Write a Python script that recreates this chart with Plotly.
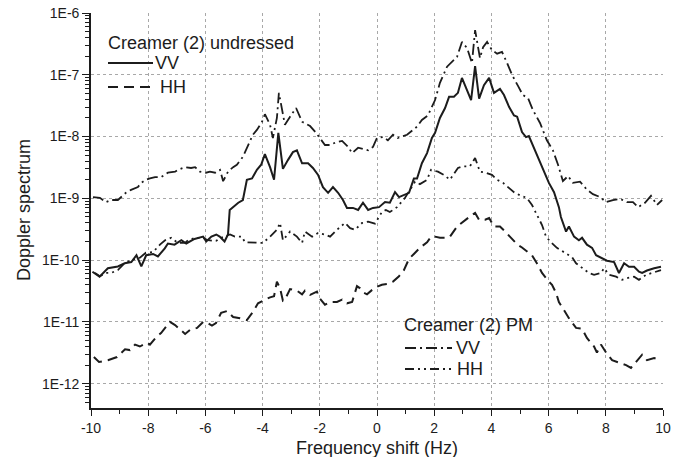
import plotly.graph_objects as go

# ---------------- data ----------------
und_vv_f = [-9.95, -9.70, -9.41, -9.06, -8.82, -8.59, -8.41, -8.24, -8.07, -7.83, -7.66, -7.42, -7.31, -7.08,
            -6.84, -6.67, -6.38, -6.08, -5.97, -5.79, -5.62, -5.50, -5.33, -5.21, -5.15, -5.03, -4.85, -4.69,
            -4.55, -4.37, -4.20, -4.05, -3.92, -3.74, -3.60, -3.45, -3.29, -3.11, -2.94, -2.80, -2.62, -2.41,
            -2.24, -2.06, -1.89, -1.71, -1.54, -1.36, -1.19, -1.05, -0.84, -0.66, -0.49, -0.31, -0.14, 0.07,
            0.28, 0.45, 0.63, 0.77, 0.94, 1.12, 1.29, 1.40, 1.57, 1.75, 1.92, 2.03, 2.20, 2.38, 2.52, 2.69,
            2.83, 2.97, 3.15, 3.29, 3.43, 3.57, 3.74, 3.92, 4.09, 4.30, 4.44, 4.62, 4.79, 4.90, 5.07, 5.21,
            5.31, 5.49, 5.66, 5.84, 6.01, 6.19, 6.36, 6.43, 6.61, 6.71, 6.89, 7.06, 7.17, 7.34, 7.52, 7.66,
            7.83, 8.04, 8.29, 8.46, 8.64, 8.81, 8.99, 9.16, 9.27, 9.44, 9.69, 9.93]
und_vv = [6.5e-11, 5.4e-11, 7.4e-11, 7.9e-11, 8.9e-11, 9.3e-11, 1.2e-10, 7.9e-11, 1.2e-10, 1.26e-10, 1.15e-10,
          1.55e-10, 1.86e-10, 1.78e-10, 2.1e-10, 1.86e-10, 2.2e-10, 2.4e-10, 2.0e-10, 2.4e-10, 2.6e-10, 2.4e-10,
          2.0e-10, 2.6e-10, 6.5e-10, 7.2e-10, 8.5e-10, 9.4e-10, 2.0e-9, 2.1e-9, 2.9e-9, 3.5e-9, 5.2e-9, 3.2e-9,
          2.0e-9, 1.15e-8, 3.0e-9, 4.2e-9, 5.6e-9, 6.0e-9, 3.7e-9, 3.7e-9, 3.1e-9, 2.4e-9, 1.52e-9, 1.23e-9,
          1.52e-9, 1.23e-9, 9.4e-10, 7.0e-10, 7.0e-10, 6.5e-10, 8.5e-10, 6.5e-10, 7.0e-10, 7.2e-10, 8.7e-10,
          8.5e-10, 1.26e-9, 1.05e-9, 1.12e-9, 1.23e-9, 2.1e-9, 2.1e-9, 3.7e-9, 5.4e-9, 9.5e-9, 1.15e-8, 2.0e-8,
          2.9e-8, 4.4e-8, 4.4e-8, 5.1e-8, 8.9e-8, 5.6e-8, 3.9e-8, 1.38e-7, 4.1e-8, 6.8e-8, 8.9e-8, 5.1e-8,
          5.9e-8, 4.7e-8, 3.0e-8, 2.2e-8, 2.1e-8, 1.18e-8, 9.8e-9, 1.02e-8, 6.5e-9, 4.2e-9, 2.7e-9, 1.78e-9,
          1.26e-9, 7.2e-10, 5.0e-10, 2.9e-10, 3.5e-10, 2.4e-10, 2.1e-10, 2.3e-10, 1.78e-10, 1.58e-10, 1.2e-10,
          1.1e-10, 9.8e-11, 9.3e-11, 6.2e-11, 8.9e-11, 7.8e-11, 7.8e-11, 6.5e-11, 6.2e-11, 6.8e-11, 7.4e-11,
          7.8e-11]

und_hh_f = [-9.90, -9.72, -9.41, -9.09, -8.81, -8.64, -8.46, -8.29, -8.04, -7.94, -7.69, -7.55, -7.24, -7.06,
            -6.71, -6.54, -6.29, -6.08, -5.98, -5.77, -5.63, -5.45, -5.24, -5.03, -4.79, -4.55, -4.34, -4.16,
            -3.99, -3.74, -3.60, -3.50, -3.39, -3.29, -3.22, -3.04, -2.80, -2.62, -2.52, -2.34, -2.10, -2.03,
            -1.82, -1.64, -1.40, -1.22, -1.05, -0.87, -0.70, -0.59, -0.45, -0.35, -0.17, 0.00, 0.17, 0.35,
            0.56, 0.77, 0.94, 1.12, 1.29, 1.50, 1.75, 1.89, 2.03, 2.20, 2.45, 2.55, 2.80, 3.01, 3.32, 3.43,
            3.57, 3.78, 3.92, 4.09, 4.30, 4.48, 4.65, 4.90, 5.07, 5.42, 5.59, 5.77, 6.01, 6.12, 6.26, 6.36,
            6.54, 6.71, 6.96, 7.17, 7.34, 7.59, 7.69, 7.83, 8.01, 8.22, 8.46, 8.71, 8.88, 9.09, 9.27, 9.44,
            9.69, 9.93]
und_hh = [2.7e-12, 2.25e-12, 2.4e-12, 2.7e-12, 3.6e-12, 3.5e-12, 4.3e-12, 4.0e-12, 4.6e-12, 4.3e-12, 5.9e-12,
          6.6e-12, 1.0e-11, 8.9e-12, 6.4e-12, 7.4e-12, 8.0e-12, 1.0e-11, 1.0e-11, 8.7e-12, 9.6e-12, 1.4e-11,
          1.5e-11, 1.2e-11, 1.15e-11, 1.07e-11, 1.45e-11, 2.0e-11, 2.2e-11, 2.5e-11, 2.6e-11, 4.5e-11, 3.5e-11,
          2.2e-11, 2.3e-11, 3.4e-11, 3.2e-11, 2.8e-11, 3.2e-11, 2.75e-11, 3.1e-11, 2.5e-11, 1.9e-11, 2.1e-11,
          2.1e-11, 2.3e-11, 2.0e-11, 2.1e-11, 3.8e-11, 3.5e-11, 2.95e-11, 2.8e-11, 3.3e-11, 3.7e-11, 4.0e-11,
          4.1e-11, 4.5e-11, 5.5e-11, 6.9e-11, 1.05e-10, 1.26e-10, 1.58e-10, 1.95e-10, 2.4e-10, 2.4e-10, 2.3e-10,
          2.3e-10, 2.4e-10, 3.5e-10, 4.2e-10, 5.4e-10, 5.8e-10, 4.5e-10, 4.5e-10, 4.8e-10, 3.5e-10, 3.5e-10,
          2.9e-10, 2.4e-10, 1.8e-10, 1.6e-10, 1.2e-10, 8.9e-11, 6.2e-11, 4.5e-11, 4.0e-11, 2.95e-11, 2.1e-11,
          1.55e-11, 1.15e-11, 8.0e-12, 7.8e-12, 5.5e-12, 4.0e-12, 3.2e-12, 4.3e-12, 3.2e-12, 2.4e-12, 2.2e-12,
          2.0e-12, 1.8e-12, 2.4e-12, 2.95e-12, 2.4e-12, 2.6e-12, 2.4e-12]

pm_vv_f = [-9.93, -9.69, -9.48, -9.30, -9.06, -8.78, -8.60, -8.36, -8.25, -8.08, -7.94, -7.76, -7.55, -7.31,
           -7.06, -6.96, -6.71, -6.50, -6.36, -6.19, -5.98, -5.84, -5.66, -5.49, -5.38, -5.21, -5.03, -4.90,
           -4.69, -4.51, -4.34, -4.20, -4.02, -3.92, -3.74, -3.64, -3.50, -3.43, -3.32, -3.22, -3.04, -2.83,
           -2.62, -2.34, -2.13, -1.82, -1.64, -1.43, -1.22, -1.01, -0.87, -0.66, -0.49, -0.31, -0.14, 0.00,
           0.21, 0.38, 0.56, 0.73, 1.05, 1.40, 1.57, 1.78, 2.03, 2.20, 2.45, 2.62, 2.80, 2.97, 3.15, 3.32,
           3.43, 3.60, 3.71, 3.85, 4.02, 4.20, 4.37, 4.55, 4.72, 4.93, 5.10, 5.28, 5.45, 5.70, 5.94, 6.15,
           6.33, 6.50, 6.68, 6.85, 7.10, 7.34, 7.55, 7.80, 8.01, 8.25, 8.50, 8.74, 8.95, 9.13, 9.37, 9.58,
           9.79, 9.97]
pm_vv = [1.05e-9, 1.02e-9, 8.7e-10, 9.4e-10, 9.4e-10, 1.23e-9, 1.37e-9, 1.52e-9, 1.78e-9, 2.0e-9, 2.1e-9,
         2.2e-9, 2.2e-9, 2.6e-9, 2.7e-9, 2.9e-9, 3.2e-9, 3.1e-9, 3.2e-9, 2.7e-9, 2.6e-9, 2.7e-9, 2.6e-9, 2.9e-9,
         1.9e-9, 2.7e-9, 3.2e-9, 3.5e-9, 4.7e-9, 7.3e-9, 1.07e-8, 1.28e-8, 1.74e-8, 2.3e-8, 1.55e-8, 9.5e-9,
         2.0e-8, 5.1e-8, 2.7e-8, 1.55e-8, 2.1e-8, 2.9e-8, 1.74e-8, 1.48e-8, 1.15e-8, 7.3e-9, 7.3e-9, 8.1e-9,
         8.5e-9, 6.8e-9, 5.4e-9, 6.6e-9, 6.3e-9, 6.0e-9, 6.8e-9, 9.5e-9, 9.8e-9, 8.7e-9, 1.07e-8, 9.5e-9,
         1.07e-8, 1.45e-8, 1.86e-8, 2.2e-8, 3.9e-8, 7.4e-8, 1.35e-7, 1.62e-7, 1.95e-7, 3.4e-7, 2.7e-7, 1.55e-7,
         5.3e-7, 1.86e-7, 2.8e-7, 3.4e-7, 2.5e-7, 2.2e-7, 2.35e-7, 1.55e-7, 1.0e-7, 6.6e-8, 4.7e-8, 4.2e-8,
         2.7e-8, 1.66e-8, 8.7e-9, 6.0e-9, 3.5e-9, 1.9e-9, 2.3e-9, 1.78e-9, 1.86e-9, 1.38e-9, 1.17e-9, 1.05e-9,
         8.7e-10, 9.4e-10, 9.8e-10, 8.7e-10, 8.7e-10, 7.2e-10, 8.5e-10, 1.1e-9, 7.8e-10, 9.4e-10]

pm_hh_f = [-9.86, -9.69, -9.48, -9.30, -9.06, -8.85, -8.60, -8.29, -8.08, -7.83, -7.59, -7.41, -7.20, -6.96,
           -6.71, -6.61, -6.36, -6.08, -5.91, -5.63, -5.45, -5.14, -4.97, -4.72, -4.62, -4.44, -4.20, -3.99,
           -3.74, -3.50, -3.39, -3.29, -3.04, -2.80, -2.62, -2.52, -2.27, -2.06, -1.82, -1.64, -1.40, -1.12,
           -0.94, -0.77, -0.52, -0.31, -0.07, 0.17, 0.31, 0.45, 0.70, 0.98, 1.33, 1.50, 1.75, 1.89, 2.13,
           2.34, 2.55, 2.83, 3.01, 3.25, 3.43, 3.60, 3.81, 4.02, 4.20, 4.41, 4.58, 4.79, 5.00, 5.24, 5.42,
           5.59, 5.77, 5.91, 6.08, 6.29, 6.54, 6.82, 6.96, 7.13, 7.41, 7.59, 7.83, 7.94, 8.11, 8.36, 8.57,
           8.74, 8.99, 9.16, 9.41, 9.62, 9.93]
pm_hh = [6.2e-11, 5.5e-11, 6.2e-11, 6.2e-11, 6.9e-11, 8.7e-11, 1.0e-10, 1.1e-10, 1.32e-10, 1.35e-10, 1.78e-10,
         2.1e-10, 2.3e-10, 1.9e-10, 1.9e-10, 2.1e-10, 2.3e-10, 2.3e-10, 2.1e-10, 2.05e-10, 2.3e-10, 2.6e-10,
         2.4e-10, 2.4e-10, 1.95e-10, 1.95e-10, 1.9e-10, 1.9e-10, 2.4e-10, 3.1e-10, 4.0e-10, 2.1e-10, 2.9e-10,
         2.4e-10, 1.9e-10, 2.9e-10, 2.4e-10, 2.75e-10, 2.6e-10, 2.4e-10, 3.1e-10, 4.0e-10, 3.3e-10, 3.1e-10,
         4.0e-10, 4.2e-10, 3.9e-10, 6.0e-10, 6.5e-10, 6.0e-10, 7.2e-10, 1.02e-9, 1.86e-9, 1.7e-9, 2.0e-9,
         2.9e-9, 2.7e-9, 2.4e-9, 2.0e-9, 3.1e-9, 3.3e-9, 3.3e-9, 4.5e-9, 2.7e-9, 2.6e-9, 2.4e-9, 2.0e-9,
         1.78e-9, 1.52e-9, 1.26e-9, 1.12e-9, 1.02e-9, 7.8e-10, 5.4e-10, 3.7e-10, 2.4e-10, 1.95e-10, 1.58e-10,
         1.35e-10, 1.12e-10, 8.9e-11, 7.8e-11, 6.2e-11, 5.8e-11, 6.2e-11, 7.4e-11, 5.8e-11, 5.4e-11, 4.8e-11,
         5.1e-11, 5.4e-11, 4.8e-11, 5.8e-11, 6.2e-11, 6.9e-11]

y_tick_vals = [1e-12, 1e-11, 1e-10, 1e-9, 1e-8, 1e-7, 1e-6]
y_tick_text = ["1E-12", "1E-11", "1E-10", "1E-9", "1E-8", "1E-7", "1E-6"]
x_tick_vals = [-10, -8, -6, -4, -2, 0, 2, 4, 6, 8, 10]
x_tick_text = ["-10", "-8", "-6", "-4", "-2", "0", "2", "4", "6", "8", "10"]

legend1_title = "Creamer (2) undressed"
legend2_title = "Creamer (2) PM"
x_title = "Frequency shift (Hz)"
y_title = "Doppler spectrum"

# ---------------- styling ----------------
INK = "#1c1c1c"
FONT = "Arial, Liberation Sans, Helvetica, sans-serif"
W, H = 687, 457
L, R, T, B = 91, 663, 13, 408  # plot area in pixels

DASH_HH = "10px,6px"
DASH_DOT = "11px,4px,2px,4px"
DASH_DDOT = "9px,4px,2px,4px,2px,4px"
GRID = "#a8a8a8"

minor_y = [m * 10.0 ** e for e in range(-13, -6) for m in range(2, 10)]
minor_y = [v for v in minor_y if 4.0e-13 < v < 1e-6]

fig = go.Figure()
series = [
    (und_vv_f, und_vv, "solid", 2.0, "VV undressed"),
    (und_hh_f, und_hh, DASH_HH, 2.0, "HH undressed"),
    (pm_vv_f, pm_vv, DASH_DOT, 1.8, "VV PM"),
    (pm_hh_f, pm_hh, DASH_DDOT, 1.8, "HH PM"),
]
for fx, fy, dash, wd, name in series:
    fig.add_trace(go.Scatter(x=fx, y=fy, mode="lines", name=name, showlegend=False,
                             line=dict(color=INK, width=wd, dash=dash)))


def px2paper(x, y):
    return (x - L) / (R - L), (B - y) / (B - T)


shapes = []
annotations = []


def text_at(x, y, text, size=18, xanchor="left", angle=0):
    tx, ty = px2paper(x, y)
    annotations.append(dict(xref="paper", yref="paper", x=tx, y=ty, text=text, showarrow=False,
                            xanchor=xanchor, yanchor="middle", textangle=angle,
                            font=dict(size=size, color=INK, family=FONT)))


def legend_item(x0, x1, y, dash, wd, label, lx):
    a0, b0 = px2paper(x0, y)
    a1, _ = px2paper(x1, y)
    shapes.append(dict(type="line", xref="paper", yref="paper", x0=a0, x1=a1, y0=b0, y1=b0,
                       line=dict(color=INK, width=wd, dash=dash)))
    text_at(lx, y, label)


text_at(106, 43, legend1_title)
legend_item(108, 153, 63, "solid", 2.0, "VV", 153)
legend_item(108, 153, 87, DASH_HH, 2.0, "HH", 158)
text_at(402, 325, legend2_title)
legend_item(405, 452, 348, DASH_DOT, 1.8, "VV", 454)
legend_item(405, 452, 369, DASH_DDOT, 1.8, "HH", 455)

# axis titles
text_at(377, 448, x_title, xanchor="center")
text_at(24, 210, y_title, xanchor="center", angle=-90)

axis_common = dict(showline=True, linecolor=INK, linewidth=1.6, zeroline=False, tickcolor=INK, tickwidth=1.3,
                   automargin=False)

fig.update_layout(
    width=W, height=H,
    margin=dict(l=L, r=W - R, t=T, b=H - B, pad=0),
    paper_bgcolor="white", plot_bgcolor="white",
    font=dict(family=FONT, color=INK, size=14),
    showlegend=False,
    shapes=shapes, annotations=annotations,
    xaxis=dict(**axis_common, range=[-10, 10], tickmode="array", tickvals=x_tick_vals, ticktext=x_tick_text,
               ticks="outside", ticklen=6, mirror=False, ticklabelstandoff=0,
               minor=dict(tickmode="linear", tick0=-9, dtick=2, ticks="outside", ticklen=4, tickcolor=INK,
                          tickwidth=1.3, showgrid=False),
               showgrid=True, gridcolor=GRID, gridwidth=1, griddash="dot",
               tickfont=dict(size=14, family=FONT, color=INK)),
    yaxis=dict(**axis_common, type="log", range=[-12.393, -6], tickmode="array", tickvals=y_tick_vals,
               ticktext=y_tick_text, ticks="outside", ticklen=7, mirror=False,
               minor=dict(tickmode="array", tickvals=minor_y, ticks="outside", ticklen=4, tickcolor=INK,
                          tickwidth=1.1, showgrid=False),
               showgrid=True, gridcolor=GRID, gridwidth=1, griddash="dot",
               tickfont=dict(size=14, family=FONT, color=INK)),
    xaxis2=dict(**axis_common, overlaying="x", anchor="y2", side="bottom", range=[-10, 10],
                tickmode="array", tickvals=x_tick_vals, ticks="inside", ticklen=6, mirror="ticks",
                showticklabels=False, showgrid=False,
                minor=dict(tickmode="linear", tick0=-9, dtick=2, ticks="inside", ticklen=4, tickcolor=INK,
                           tickwidth=1.3, showgrid=False)),
    yaxis2=dict(**axis_common, overlaying="y", anchor="x2", side="left", type="log", range=[-12.393, -6],
                tickmode="array", tickvals=y_tick_vals, ticks="inside", ticklen=6, mirror="ticks",
                showticklabels=False, showgrid=False,
                minor=dict(tickmode="array", tickvals=minor_y, ticks="inside", ticklen=4, tickcolor=INK,
                           tickwidth=1.1, showgrid=False)),
)

fig.write_html("out.html")
